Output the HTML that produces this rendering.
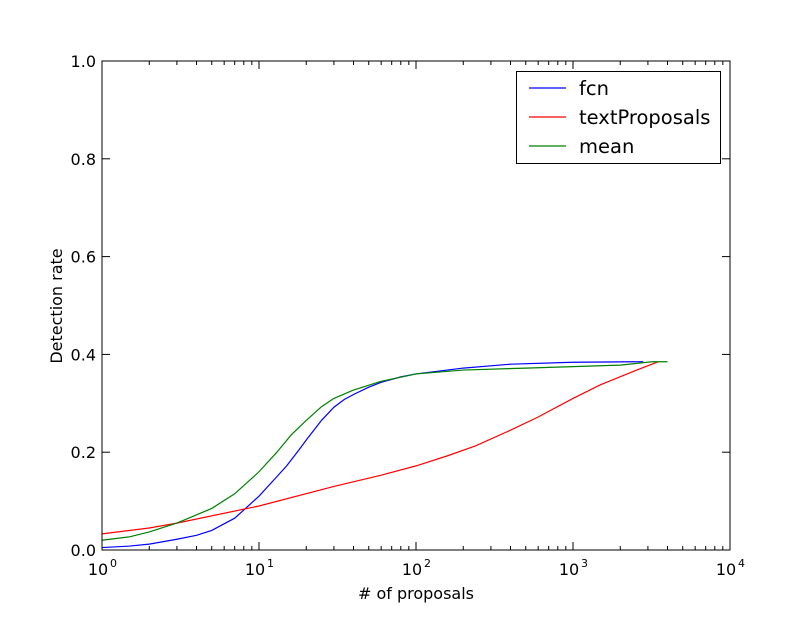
<!DOCTYPE html>
<html><head><meta charset="utf-8"><style>
body{margin:0;background:#fff;}
svg text{font-family:"DejaVu Sans","Liberation Sans",sans-serif;fill:#000;}
</style></head><body>
<svg id="chart" width="812" height="612" xmlns="http://www.w3.org/2000/svg">
<rect width="812" height="612" fill="#fff"/>
<g id="plot"></g>
</svg>
<script>
const fcnX=[1,1.5,2,3,4,5,7,10,13,15,18,20,25,30,35,40,50,60,80,100,200,400,1000,2800];
const fcnY=[0.005,0.008,0.012,0.022,0.03,0.04,0.065,0.11,0.15,0.172,0.205,0.225,0.265,0.292,0.308,0.318,0.333,0.343,0.354,0.36,0.372,0.38,0.384,0.385];
const tpX=[1,2,3,10,30,60,100,160,240,400,600,1000,1500,2500,3500];
const tpY=[0.033,0.045,0.055,0.09,0.13,0.153,0.172,0.193,0.213,0.245,0.272,0.31,0.338,0.367,0.385];
const meanX=[1,1.5,2,3,5,7,10,13,16,20,25,30,40,60,100,200,500,1000,2000,3200,4000];
const meanY=[0.02,0.027,0.037,0.055,0.085,0.115,0.16,0.2,0.235,0.265,0.293,0.31,0.327,0.345,0.36,0.368,0.372,0.375,0.378,0.385,0.385];
const yTicks=[0,0.2,0.4,0.6,0.8,1.0];
const yTickLabels=["0.0","0.2","0.4","0.6","0.8","1.0"];
const xDecades=[0,1,2,3,4];

const L=102,R=730,T=61,B=550;
const xs=v=>L+Math.log10(v)/4*(R-L);
const ys=v=>B-v*(B-T);
const g=document.getElementById('plot');
const NS='http://www.w3.org/2000/svg';
function mk(tag,attrs){const e=document.createElementNS(NS,tag);for(const k in attrs)e.setAttribute(k,attrs[k]);g.appendChild(e);return e;}

yTicks.forEach((v,i)=>{
  const y=ys(v);
  const t1=mk('line',{x1:L,x2:L+8,y1:y,y2:y,stroke:'#000'});
  
  
  mk('line',{x1:R,x2:R-8,y1:y,y2:y,stroke:'#000'});
  const t=mk('text',{x:L-6,y:y+6,'text-anchor':'end','font-size':16});
  t.textContent=yTickLabels[i];
  
  
});
xDecades.forEach(d=>{
  const x=xs(Math.pow(10,d));
  mk('line',{x1:x,x2:x,y1:B,y2:B-8,stroke:'#000'});
  mk('line',{x1:x,x2:x,y1:T,y2:T+8,stroke:'#000'});
  const t=mk('text',{x:x-4,y:B+25,'text-anchor':'middle','font-size':16});
  t.textContent='10';
  
  
  const s=mk('text',{x:x+8,y:B+17,'text-anchor':'start','font-size':11});
  s.textContent=String(d);
  if(d<4){for(let m=2;m<10;m++){const xm=xs(m*Math.pow(10,d));
    mk('line',{x1:xm,x2:xm,y1:B,y2:B-4,stroke:'#000'});
    mk('line',{x1:xm,x2:xm,y1:T,y2:T+4,stroke:'#000'});}}
});

function series(X,Y,color,name){
  const p=mk('polyline',{points:X.map((v,i)=>xs(v)+','+ys(Y[i])).join(' '),fill:'none',stroke:color,'stroke-width':1.2});
  
  
}
series(fcnX,fcnY,'#0000ff','fcn-line');
series(tpX,tpY,'#ff0000','textproposals-line');
series(meanX,meanY,'#008000','mean-line');

const fr=mk('rect',{x:L,y:T,width:R-L,height:B-T,fill:'none',stroke:'#000','stroke-width':1});



const lg=mk('rect',{x:516.5,y:71.5,width:204,height:92,fill:'#fff',stroke:'#000'});


[['fcn','#0000ff'],['textProposals','#ff0000'],['mean','#008000']].forEach((e,i)=>{
  const y=88+i*29;
  mk('line',{x1:529,x2:566,y1:y,y2:y,stroke:e[1],'stroke-width':1.2});
  const t=mk('text',{x:579,y:y+7,'font-size':19.5});
  t.textContent=e[0];
  
  
});

const xl=mk('text',{x:416,y:599,'text-anchor':'middle','font-size':16});
xl.textContent='# of proposals';


const yl=mk('text',{x:0,y:0,'text-anchor':'middle','font-size':16,transform:'translate(62,306) rotate(-90)'});
yl.textContent='Detection rate';


</script>
</body></html>
